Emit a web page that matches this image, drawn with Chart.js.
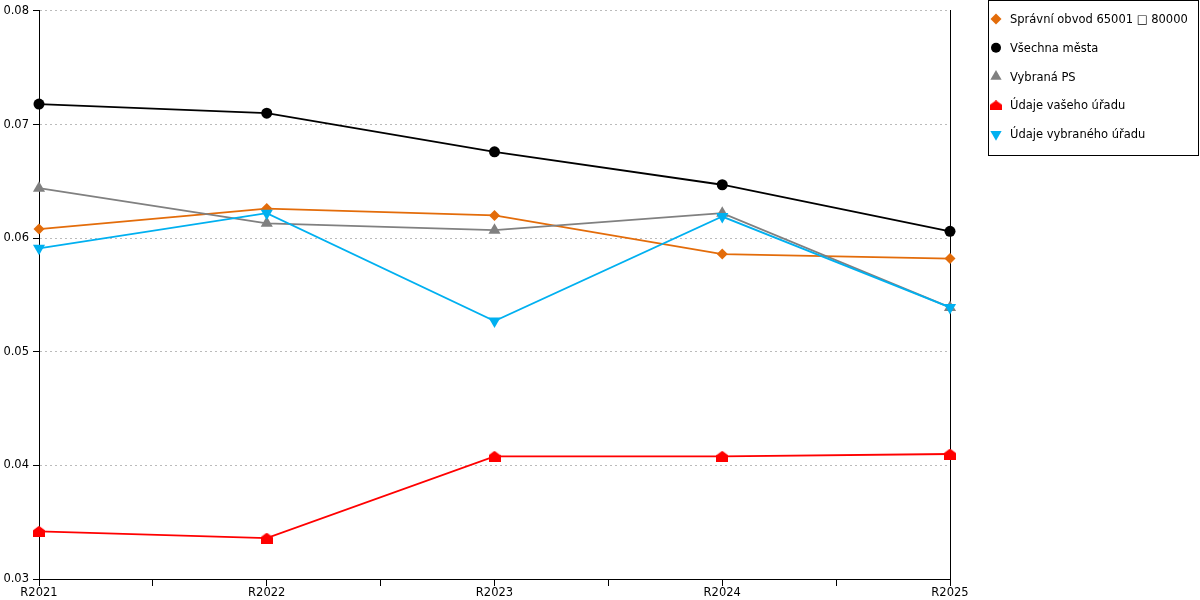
<!DOCTYPE html>
<html>
<head>
<meta charset="utf-8">
<script src="https://cdn.jsdelivr.net/npm/chart.js@4/dist/chart.umd.min.js"></script>
<style>
html,body{margin:0;padding:0;background:#fff;}
#wrap{position:relative;width:1200px;height:600px;}
</style>
</head>
<body>
<div id="wrap"><canvas id="c" width="1200" height="600"></canvas></div>
<script>
const categories = ["R2021", "R2022", "R2023", "R2024", "R2025"];
const seriesNames = ["Správní obvod 65001 \u25A1 80000", "Všechna města", "Vybraná PS", "Údaje vašeho úřadu", "Údaje vybraného úřadu"];
const spravniObvod = [0.0608, 0.0626, 0.0620, 0.0586, 0.0582];
const vsechnaMesta = [0.0718, 0.0710, 0.0676, 0.0647, 0.0606];
const vybranaPS = [0.0644, 0.0613, 0.0607, 0.0622, 0.0539];
const vasUrad = [0.0342, 0.0336, 0.0408, 0.0408, 0.0410];
const vybranyUrad = [0.0591, 0.0622, 0.0527, 0.0619, 0.0539];
const yTicks = [0.03, 0.04, 0.05, 0.06, 0.07, 0.08];

const FONT_SIZE = 11.5;

// house-shaped marker
function houseMarker(color, w, h) {
  const cv = document.createElement('canvas');
  cv.width = w; cv.height = h;
  const g = cv.getContext('2d');
  g.fillStyle = color;
  g.beginPath();
  g.moveTo(0, h); g.lineTo(w, h); g.lineTo(w, h * 0.42); g.lineTo(w / 2, 0); g.lineTo(0, h * 0.42);
  g.closePath(); g.fill();
  return cv;
}

const styles = [
  {color: '#E36C0A', pointStyle: 'rectRot', radius: 5.5, legendRadius: 5.5, rotation: 0},
  {color: '#000000', pointStyle: 'circle', radius: 5.5, legendRadius: 5, rotation: 0},
  {color: '#808080', pointStyle: 'triangle', radius: 7, legendRadius: 6.5, rotation: 0},
  {color: '#FF0000', pointStyle: houseMarker('#FF0000', 12, 11), legendStyle: houseMarker('#FF0000', 12, 10), radius: 6, legendRadius: 6, rotation: 0},
  {color: '#00B0F0', pointStyle: 'triangle', radius: 7, legendRadius: 6.5, rotation: 180}
];
const values = [spravniObvod, vsechnaMesta, vybranaPS, vasUrad, vybranyUrad];

const datasets = values.map((vals, i) => ({
  label: seriesNames[i],
  data: vals.map((v, j) => ({x: j, y: v})),
  borderColor: styles[i].color,
  backgroundColor: styles[i].color,
  borderWidth: 1.8,
  pointStyle: styles[i].pointStyle,
  pointRadius: styles[i].radius,
  pointRotation: styles[i].rotation,
  pointBorderWidth: 0,
  pointBackgroundColor: styles[i].color,
  tension: 0,
  order: 5 - i,
  clip: false
}));

const legendPlugin = {
  id: 'boxLegend',
  afterDraw(chart) {
    const ctx = chart.ctx;
    ctx.save();
    ctx.strokeStyle = '#000';
    ctx.lineWidth = 1;
    ctx.strokeRect(988.5, 0.5, 210, 155);
    ctx.font = FONT_SIZE + 'px "DejaVu Sans"';
    ctx.textBaseline = 'middle';
    ctx.textAlign = 'left';
    seriesNames.forEach((name, i) => {
      const cy = 19 + i * 28.8;
      const s = styles[i];
      ctx.fillStyle = s.color;
      ctx.strokeStyle = s.color;
      ctx.lineWidth = 0;
      Chart.helpers.drawPoint(ctx, {pointStyle: s.legendStyle || s.pointStyle, radius: s.legendRadius, rotation: s.rotation, borderWidth: 0}, 996, cy);
      ctx.fillStyle = '#000';
      ctx.fillText(name, 1010, cy + 1);
    });
    ctx.restore();
  }
};

new Chart(document.getElementById('c'), {
  type: 'line',
  data: {datasets},
  options: {
    responsive: false,
    animation: false,
    devicePixelRatio: 1,
    layout: {padding: {top: 10, right: 250, left: 0, bottom: 0}},
    plugins: {legend: {display: false}, tooltip: {enabled: false}},
    scales: {
      x: {
        type: 'linear',
        min: 0, max: categories.length - 1,
        afterBuildTicks(scale) {
          const t = [];
          for (let v = 0; v <= categories.length - 1; v += 0.5) t.push({value: v});
          scale.ticks = t;
        },
        ticks: {
          autoSkip: false, maxRotation: 0, padding: 0,
          color: '#000', font: {family: 'DejaVu Sans', size: FONT_SIZE},
          callback: (v) => Number.isInteger(v) ? categories[v] : ''
        },
        grid: {drawOnChartArea: false, drawTicks: true, tickLength: 7, tickColor: '#000', tickWidth: 1},
        border: {display: true, color: '#000', width: 1},
        afterFit(scale) { scale.height = 21; }
      },
      y: {
        type: 'linear',
        min: yTicks[0], max: yTicks[yTicks.length - 1],
        afterBuildTicks(scale) { scale.ticks = yTicks.map(v => ({value: v})); },
        ticks: {
          padding: 4, color: '#000', font: {family: 'DejaVu Sans', size: FONT_SIZE},
          callback: (v) => v.toFixed(2)
        },
        grid: {
          color: '#BBBBBB', lineWidth: 1,
          drawTicks: true, tickLength: 6, tickColor: '#000', tickBorderDash: [], tickWidth: 1
        },
        border: {display: true, color: '#000', width: 1, dash: [2, 3]},
        afterFit(scale) { scale.width = 39; }
      },
      y2: {
        type: 'linear', position: 'right',
        min: yTicks[0], max: yTicks[yTicks.length - 1],
        ticks: {display: false},
        grid: {drawOnChartArea: false, drawTicks: false},
        border: {display: true, color: '#000', width: 1},
        afterFit(scale) { scale.width = 0; }
      }
    }
  },
  plugins: [legendPlugin]
});
</script>
</body>
</html>
